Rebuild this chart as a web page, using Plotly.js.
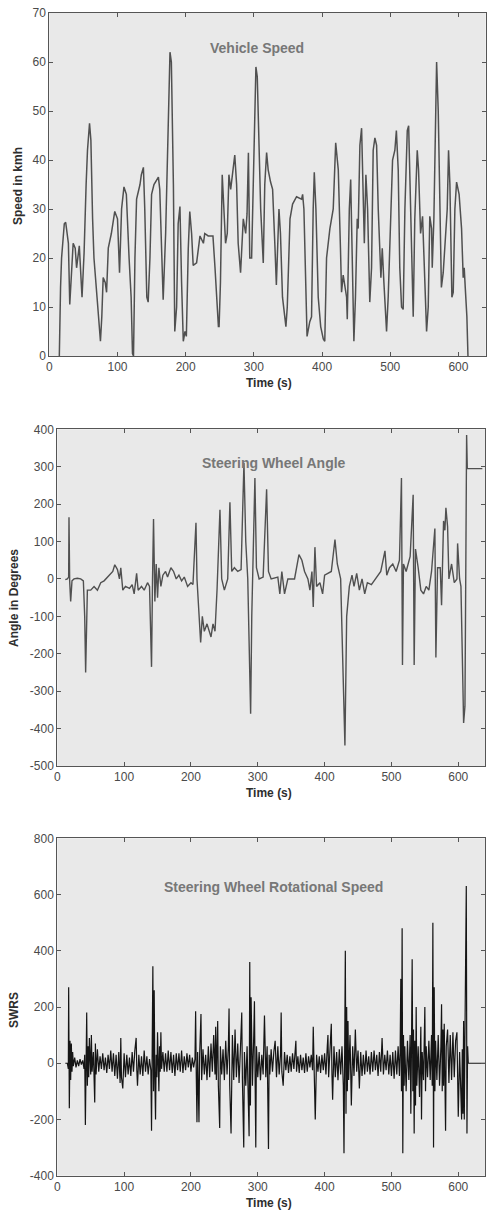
<!DOCTYPE html>
<html>
<head>
<meta charset="utf-8">
<script src="https://cdn.plot.ly/plotly-3.0.1.min.js"></script>
<style>html,body{margin:0;padding:0;background:#fff;}#chart{width:490px;height:1210px;}</style>
</head>
<body>
<div id="chart"></div>
<script>
// ---- Vehicle speed (km/h) ----
const speedT = [14.7,15.5,16.5,18,20,22,24,26,28,30,
  32,35,38,40,44,46,48,50,51,54,
  56,59,61,63.5,65.5,70,75,77,79,82,
  84,86.5,91,96,100,103,106,109.5,113,117,
  120,122,123.5,125.6,128,133,135,138,140,143,
  145,147.6,150,153.5,160,162,164.7,167,170.6,174.5,
  177,179,182,184,186.7,189,191.6,194,196.5,199,
  201,203.8,206,208.7,211,216,218.5,221,226,228,
  233,240,243,246,248,249,251,253.6,256,258.5,
  261,263.4,266,269.8,272,274.7,277,280.5,284.5,288,
  290,292,294,296.7,300,303,305,307,310,313.8,
  316,318.7,321,324.5,327.5,331,333,336.8,339,342,
  347,349,353,356.8,362.6,370,371.5,373.4,376,378,
  382,384.6,387,388.6,391,394.4,398,401.8,404,406.6,
  411.5,416.4,420,423.8,427,428.6,431,436,437,440,
  442,444.8,446.7,449,451.6,453,455.5,458,460.4,462,
  464.3,466.8,470,472.6,475,477.5,480,482.4,486.3,488.3,
  490.7,494.6,497,499.5,503.4,506.8,509,511.7,514,516.6,
  519,521.5,525,527,529.8,532.7,533.7,536,539.6,541.5,
  544.5,547.4,550.8,553.3,555.7,558,560.6,561.6,564,565.5,
  568,570.4,572.8,575,577.7,581.6,583.6,585.5,587.5,590.4,
  592.4,594.8,597.3,601,604.6,607,608.5,610,612.4,614];
const speedV = [0,8,14,20,24,27,27.3,25,23,10.5,
  16,23,22,18,22.5,17,12,18,21,35,
  42,47.5,44,28,20,12,3,8,16,15,
  13,22,25,29.5,28,17,30,34.5,33,20,
  12,0.5,0,20,32,35,37,38.5,30,12,
  11,20,33,35,36.5,34,20,11.5,25,45,
  62,60,35,5,10,27,30.5,15,3,5,
  4,22,29.5,25,18.5,19,22,24.5,23,25,
  24.5,24.5,18,10,6,6,15,37,30,23,
  25,37,34,38,41,35,23,17,28,25,
  29,41.5,20,20,40,59,57,48,30,19,
  35,41.5,38,35.5,34,22,14.5,30,25,12,
  6,10,28,31,32.5,32,33,30,15,4,
  7,8,30,37.5,30,12,6,3.5,3,20,
  26,30,43.5,38,22,13,16.5,12,7.5,30,
  36,15,3,12,28,26,43,46.5,35,23,
  37,30,11,18,42,44.5,43,30,16,22,
  15,5,12,22,40,42,46,38,18,10,
  9.5,30,46,47,30,10,8,28,42,38,
  25,28.5,15,5,10,28.5,26,18,28,40,
  60,50,30,14,17,25,30,42,35,12,
  13,30,35.5,33,26,16,18,14,8,0];

// ---- Steering wheel angle (degrees) ----
const angleT = [12,15,17,17.5,18.5,20,22,25,30,35,
  39,41,42.4,44,45,50,55,60,65,70,
  75,80,83,86,88,90,93,95,98,102,
  108,112,115,118.7,121,126,130,135,138,141,
  142.5,144,146,148,150,152,155,158,162,165,
  170,174,178,182,186,190,195,200,203,207.5,
  209,212,214.5,217,220,224,230,233,236,239,
  243.4,246,250,255,258.3,261,265,270,275,279.3,
  282,285,289.3,291,295.7,298,302,308,313.2,316,
  320,330,333,336,340,345,355,361.6,366,370,
  375,378,381,383,385.5,388,393,397,400,410,
  415.5,419,424,430.4,433,437,441,444,448,452,
  456,460,464,470,478,484,490.3,493,497,502,
  507,512,515,516.5,518,522,528,532.5,534,536,
  540,544,548,552,556,560,565,566.5,569,573,
  575,578,580,581.5,584,586,590,594,598,599,
  602,604,606,608,610,612,612.5,613.5,636];
const angleV = [-2,0,5,165,-5,-60,-5,0,2,0,
  -5,-100,-250,-150,-30,-30,-20,-30,-10,-5,
  5,15,20,38,30,25,0,30,-30,-20,
  -25,-15,-40,15,-30,-20,-30,-10,-20,-235,
  0,160,-60,40,-50,30,-20,10,20,5,
  30,20,0,10,-5,5,-20,-10,-15,150,
  0,-80,-170,-100,-140,-120,-155,-120,-140,-30,
  185,0,-30,0,205,20,30,20,25,310,
  100,0,-360,-100,270,30,0,5,240,20,
  0,5,-40,20,-40,0,0,65,50,20,
  0,-30,20,-75,85,-20,-10,-40,10,20,
  105,40,0,-445,-100,-20,10,-20,15,-30,
  0,-40,-10,-15,5,20,75,10,30,40,
  20,50,270,-230,40,20,60,225,-230,80,
  30,-30,-40,-20,-30,20,135,-210,30,30,
  -70,155,130,190,140,0,40,-10,0,95,
  0,-20,-200,-385,-340,250,385,295,295];

// ---- Steering wheel rotational speed (SWRS) ----
const swrsT = [12,15,16.5,17,18,19,20,21,22,23,24,26,28,30,32,34,36,38,40,
  41,42,43,44,45,46,47,48,50,51,52,54,56,57,58,60,
  62,64,66,68,70,72,74,76,78,80,82,84,86,88,90,92,94,95,96,98,100,102,104,106,108,110,112,114,116,118,119,120,122,124,126,128,130,132,134,136,138,140,
  141,142,143,144,145,146,147,148,149,150,151,152,153,154,155,156,158,160,
  162,164,166,168,170,172,174,176,178,180,182,184,186,188,190,192,194,196,198,200,202,204,206,
  207,208,209,210,211,212,213,215,216,218,220,222,224,226,228,230,232,234,236,237,238,240,
  241,243,244,246,248,250,252,254,256,257,258,260,262,264,266,268,270,272,274,276,277,279,280,282,284,286,287,288,289,290,
  292,294,295,296,297,298,300,302,304,306,308,310,312,314,316,317,318,320,322,324,326,328,330,332,334,335,336,338,340,
  342,344,346,348,350,352,354,356,357,358,360,362,364,366,368,370,372,374,376,378,380,382,383,384,386,388,390,392,394,396,398,400,
  402,404,405,406,408,410,411,412,414,416,418,420,422,424,426,428,429,430,431,432,433,434,435,436,
  438,440,442,444,446,448,450,452,454,456,458,460,462,464,466,468,470,472,474,476,478,480,482,484,486,488,490,492,494,496,498,500,502,504,506,508,510,512,
  513,514,515,516,517,518,519,520,522,524,526,528,529,530,531,532,533,534,535,536,537,538,540,
  542,543,544,545,546,548,550,551,552,554,556,558,560,561,562,563,564,565,566,568,570,572,574,575,
  576,577,578,579,580,581,582,584,586,588,590,592,594,596,598,599,600,602,604,605,606,607,608,609,610,611,612,613,614,615,640];
const swrsV = [0,0,-20,270,-160,80,-60,70,-30,40,-10,20,-15,10,-10,15,-5,10,-20,
  30,-220,20,180,-80,60,-50,90,-40,100,-30,40,-140,70,-40,50,
  -30,25,-20,35,-25,20,-35,30,-20,45,-30,35,-45,30,-55,40,-70,90,-50,-90,35,-50,30,-40,20,-45,40,-30,45,90,-25,-80,30,-40,25,-45,45,-30,25,-40,15,-25,
  -240,20,345,-100,260,-60,-200,30,-50,110,-40,-100,60,-30,110,-20,40,-30,
  35,-30,45,-25,40,-35,30,-45,35,-25,35,-30,45,-35,25,-25,35,-15,30,-30,20,-15,15,
  185,-50,-210,40,-60,-210,30,175,-60,50,-40,30,-60,60,-50,70,-30,100,-40,130,-60,150,
  -80,-230,60,-40,50,-60,80,-40,60,195,-80,-250,100,-60,120,-50,70,-70,50,180,-60,-300,40,-80,60,-100,-260,360,-150,235,
  -80,100,220,-60,-300,60,-50,40,-60,30,-40,170,-50,60,-305,30,-40,50,-30,40,80,-50,60,-40,30,180,-30,-80,40,
  -25,30,-35,25,-30,35,-20,30,80,-30,25,-35,30,-25,20,-35,35,-30,25,-15,30,-25,130,15,-200,30,-30,25,-35,30,-25,35,
  -40,60,100,-50,40,140,-40,-130,60,-50,40,-60,50,-40,60,-80,-320,100,400,-180,200,-100,150,-60,
  100,-150,60,-45,120,-30,45,-90,40,-45,30,-40,45,-30,25,-40,40,-30,45,-25,30,-45,40,-30,90,-40,30,-25,45,-40,30,-45,40,-55,45,-40,60,-45,
  40,300,-100,480,-320,100,-80,60,-100,80,-60,100,-180,60,370,-100,120,-250,80,-150,200,-80,60,
  -120,50,130,-200,40,-60,200,-100,60,-50,80,-60,100,-80,500,-300,270,-100,80,-60,100,-80,60,210,
  -100,120,-80,140,-50,-240,60,120,-70,100,-60,110,-50,80,110,-60,-190,40,-80,-200,50,-180,150,-200,100,400,630,-250,60,0,0];

// ---- Tick labels ----
const xTicks = [0,100,200,300,400,500,600];
const speedTicks = [0,10,20,30,40,50,60,70];
const angleTicks = [-500,-400,-300,-200,-100,0,100,200,300,400];
const angleTickText = ['-500','-400','-300','-200','-100','0','100','200','300','400'];
const swrsTicks = [-400,-200,0,200,400,600,800];
const swrsTickText = ['-400','-200','0','200','400','600','800'];

const titles = ['Vehicle Speed','Steering Wheel Angle','Steering Wheel Rotational Speed'];
const yTitles = ['Speed in kmh','Angle in Degrees','SWRS'];
const xTitle = 'Time (s)';

const traces = [
  {x: speedT, y: speedV, xaxis:'x', yaxis:'y', type:'scatter', mode:'lines', line:{color:'#505050', width:1.5}, hoverinfo:'skip'},
  {x: angleT, y: angleV, xaxis:'x2', yaxis:'y2', type:'scatter', mode:'lines', line:{color:'#505050', width:1.4}, hoverinfo:'skip'},
  {x: swrsT, y: swrsV, xaxis:'x3', yaxis:'y3', type:'scatter', mode:'lines', line:{color:'#151515', width:1.2}, hoverinfo:'skip'}
];

const W = 490, H = 1210;
const px = v => v / W;
const py = v => 1 - v / H;

function xa(dom, anchor) {
  return {domain: dom, anchor: anchor, range: [0, 640], tickvals: xTicks, ticktext: xTicks.map(String),
    ticks: 'inside', ticklen: 4, tickcolor: '#555', mirror: 'ticks', showline: true, linecolor: '#555', linewidth: 1,
    showgrid: false, zeroline: false, tickfont: {size: 12, color: '#4a4a4a'}, fixedrange: true};
}
function ya(dom, anchor, range, vals, text) {
  return {domain: dom, anchor: anchor, range: range, tickvals: vals, ticktext: text,
    ticks: 'inside', ticklen: 4, tickcolor: '#555', mirror: 'ticks', showline: true, linecolor: '#555', linewidth: 1,
    showgrid: false, zeroline: false, tickfont: {size: 12, color: '#4a4a4a'}, fixedrange: true};
}

const dom1x = [px(49.3), px(485.7)];
const dom23x = [px(57.3), px(485)];

const titleFont = {family: 'Liberation Sans, Arial, sans-serif', size: 14, color: '#777', weight: 'bold'};
const labFont = {family: 'Liberation Sans, Arial, sans-serif', size: 12, color: '#2e2e2e', weight: 'bold'};

const ann = [
  {text: titles[0], x: px(257), y: py(48)},
  {text: titles[1], x: px(274), y: py(463)},
  {text: titles[2], x: px(273), y: py(887)}
].map(a => Object.assign(a, {xref:'paper', yref:'paper', xanchor:'center', yanchor:'middle', showarrow:false, font:titleFont}));

[[269, 383],[269, 793],[269, 1203]].forEach(p => ann.push({text: xTitle, x: px(p[0]), y: py(p[1]), xref:'paper', yref:'paper',
  xanchor:'center', yanchor:'middle', showarrow:false, font: labFont}));
[[18, 186, 0],[14, 598, 1],[14, 1010, 2]].forEach(p => ann.push({text: yTitles[p[2]], x: px(p[0]), y: py(p[1]), xref:'paper', yref:'paper',
  xanchor:'center', yanchor:'middle', textangle: -90, showarrow:false, font: labFont}));

const layout = {
  width: W, height: H,
  margin: {l:0, r:0, t:0, b:0},
  paper_bgcolor: '#ffffff',
  plot_bgcolor: '#e9e9e9',
  showlegend: false,
  font: {family: 'Liberation Sans, Arial, sans-serif', size: 12, color: '#4a4a4a'},
  xaxis: xa(dom1x, 'y'),
  yaxis: ya([py(356), py(13)], 'x', [0, 70], speedTicks, speedTicks.map(String)),
  xaxis2: xa(dom23x, 'y2'),
  yaxis2: ya([py(766), py(429.3)], 'x2', [-500, 400], angleTicks, angleTickText),
  xaxis3: xa(dom23x, 'y3'),
  yaxis3: ya([py(1175.7), py(838.3)], 'x3', [-400, 800], swrsTicks, swrsTickText),
  annotations: ann
};

Plotly.newPlot('chart', traces, layout, {displayModeBar: false, staticPlot: true});
</script>
</body>
</html>
